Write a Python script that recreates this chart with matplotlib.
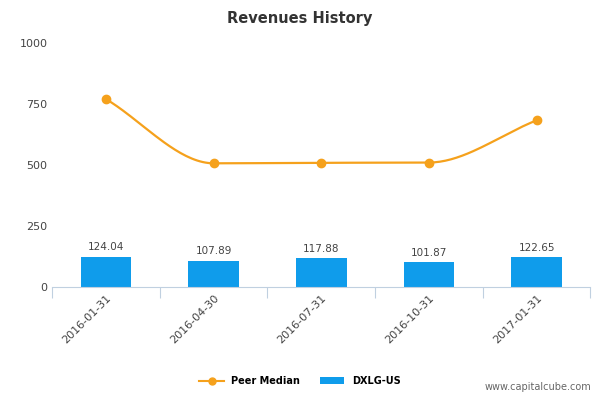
import numpy as np
import matplotlib.pyplot as plt

dates = ['2016-01-31', '2016-04-30', '2016-07-31', '2016-10-31', '2017-01-31']
revenues = [124.04, 107.89, 117.88, 101.87, 122.65]
peer_median = [770, 507, 509, 510, 683]


def monotone_curve(x, y, n=40):
    # Fritsch-Carlson monotone cubic for the smooth line look
    x = np.asarray(x, float)
    y = np.asarray(y, float)
    h = np.diff(x)
    d = np.diff(y) / h
    m = np.zeros_like(y)
    m[0], m[-1] = d[0], d[-1]
    for k in range(1, len(y) - 1):
        if d[k - 1] * d[k] <= 0:
            m[k] = 0
        else:
            m[k] = 2 / (1 / d[k - 1] + 1 / d[k])
    xs, ys = [], []
    for k in range(len(h)):
        t = np.linspace(0, 1, n)
        h00 = 2 * t**3 - 3 * t**2 + 1
        h10 = t**3 - 2 * t**2 + t
        h01 = -2 * t**3 + 3 * t**2
        h11 = t**3 - t**2
        xs.append(x[k] + t * h[k])
        ys.append(h00 * y[k] + h10 * h[k] * m[k] + h01 * y[k + 1] + h11 * h[k] * m[k + 1])
    return np.concatenate(xs), np.concatenate(ys)


fig = plt.figure(figsize=(6, 4), dpi=100)
ax = fig.add_axes([0.087, 0.2825, 0.897, 0.61])

x = np.arange(len(dates))
bar_color = '#0f9ceb'
line_color = '#f5a11c'

ax.bar(x, revenues, width=0.47, color=bar_color, zorder=2, label='DXLG-US')
for xi, v in zip(x, revenues):
    ax.text(xi, v + 18, f'{v:.2f}', ha='center', va='bottom', fontsize=7.5, color='#444444')

cx, cy = monotone_curve(x, peer_median)
ax.plot(cx, cy, color=line_color, lw=1.6, zorder=3)
ax.plot(x, peer_median, 'o', color=line_color, ms=6, zorder=4)
ax.plot([], [], '-o', color=line_color, ms=5, label='Peer Median')

ax.set_xlim(-0.5, len(dates) - 0.5)
ax.set_ylim(0, 1000)
ax.set_yticks([0, 250, 500, 750, 1000])
ax.tick_params(axis='y', length=0, labelsize=8, colors='#444444')
ax.set_xticks(np.arange(-0.5, len(dates), 1), minor=False, labels=[''] * (len(dates) + 1))
ax.set_xticks(x, minor=True, labels=dates)
ax.tick_params(axis='x', which='major', length=8, color='#c0d0e0')
ax.tick_params(axis='x', which='minor', length=0, labelsize=8, colors='#444444', pad=4)
for lbl in ax.get_xticklabels(minor=True):
    lbl.set_rotation(45)
    lbl.set_ha('right')
    lbl.set_rotation_mode('anchor')

for s in ['top', 'right', 'left']:
    ax.spines[s].set_visible(False)
ax.spines['bottom'].set_color('#c0d0e0')

fig.text(0.5, 0.955, 'Revenues History', ha='center', va='center', fontsize=10.5,
         fontweight='bold', color='#333333')
fig.legend(loc='center', bbox_to_anchor=(0.5, 0.047), ncol=2, frameon=False,
           fontsize=7, prop={'weight': 'bold', 'size': 7}, handlelength=2.5)
fig.text(0.985, 0.02, 'www.capitalcube.com', ha='right', va='bottom', fontsize=7, color='#666666')

fig.savefig('out.png', dpi=100)
